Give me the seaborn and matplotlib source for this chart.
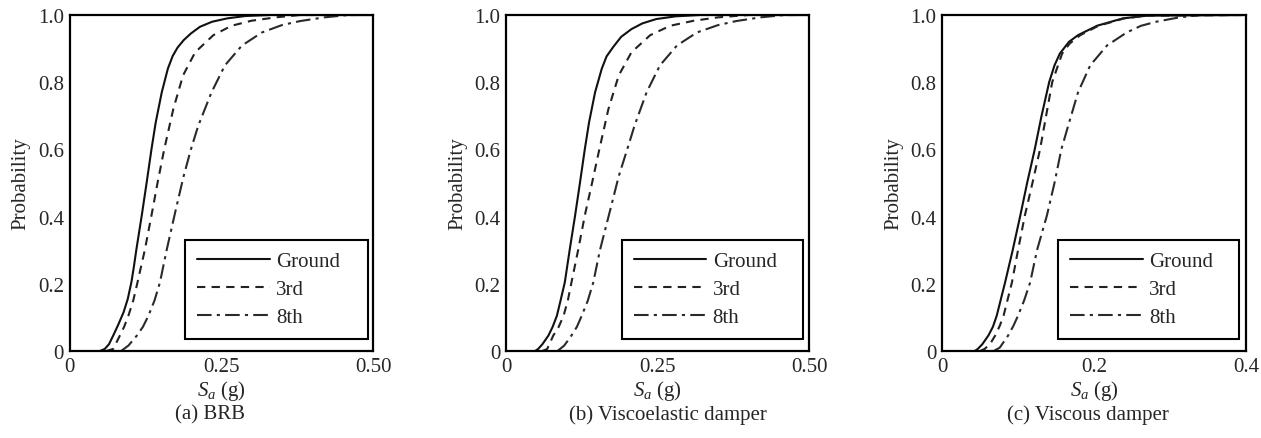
import numpy as np
import pandas as pd
import seaborn as sns
import matplotlib.pyplot as plt

# fragility curves: S_a (g) vs probability
# (a) BRB
brb_ground_x = [0.050, 0.058, 0.065, 0.072, 0.080, 0.089, 0.096, 0.102, 0.106, 0.110, 0.119, 0.127, 0.135, 0.142, 0.152, 0.162, 0.170, 0.178, 0.188, 0.200, 0.215, 0.235, 0.260, 0.290, 0.330, 0.500]
brb_ground_p = [0.0, 0.006, 0.02, 0.046, 0.077, 0.115, 0.155, 0.205, 0.25, 0.30, 0.403, 0.50, 0.60, 0.68, 0.77, 0.84, 0.878, 0.903, 0.925, 0.945, 0.965, 0.98, 0.99, 0.997, 1.0, 1.0]
brb_3rd_x = [0.060, 0.072, 0.083, 0.090, 0.097, 0.105, 0.112, 0.124, 0.135, 0.145, 0.156, 0.171, 0.187, 0.207, 0.237, 0.267, 0.300, 0.340, 0.380, 0.500]
brb_3rd_p = [0.0, 0.006, 0.046, 0.072, 0.105, 0.15, 0.204, 0.30, 0.403, 0.50, 0.60, 0.72, 0.82, 0.889, 0.94, 0.968, 0.983, 0.993, 1.0, 1.0]
brb_8th_x = [0.085, 0.097, 0.111, 0.121, 0.130, 0.140, 0.149, 0.160, 0.175, 0.188, 0.200, 0.212, 0.234, 0.256, 0.284, 0.317, 0.350, 0.380, 0.420, 0.460, 0.500]
brb_8th_p = [0.0, 0.016, 0.046, 0.072, 0.105, 0.15, 0.204, 0.30, 0.42, 0.52, 0.60, 0.67, 0.77, 0.85, 0.909, 0.948, 0.97, 0.982, 0.993, 1.0, 1.0]

# (b) Viscoelastic damper
ve_ground_x = [0.048, 0.053, 0.060, 0.070, 0.077, 0.084, 0.090, 0.097, 0.105, 0.114, 0.122, 0.130, 0.137, 0.147, 0.158, 0.166, 0.177, 0.190, 0.207, 0.225, 0.248, 0.280, 0.320, 0.500]
ve_ground_p = [0.0, 0.006, 0.02, 0.046, 0.072, 0.105, 0.15, 0.204, 0.30, 0.403, 0.50, 0.60, 0.68, 0.77, 0.84, 0.877, 0.905, 0.935, 0.958, 0.975, 0.988, 0.996, 1.0, 1.0]
ve_3rd_x = [0.060, 0.068, 0.078, 0.087, 0.095, 0.102, 0.108, 0.119, 0.130, 0.142, 0.154, 0.169, 0.186, 0.207, 0.238, 0.271, 0.310, 0.350, 0.400, 0.500]
ve_3rd_p = [0.0, 0.006, 0.046, 0.072, 0.105, 0.15, 0.204, 0.30, 0.403, 0.50, 0.60, 0.72, 0.82, 0.889, 0.94, 0.968, 0.983, 0.993, 1.0, 1.0]
ve_8th_x = [0.085, 0.096, 0.108, 0.117, 0.125, 0.135, 0.144, 0.155, 0.172, 0.186, 0.200, 0.212, 0.232, 0.254, 0.282, 0.315, 0.350, 0.380, 0.420, 0.460, 0.500]
ve_8th_p = [0.0, 0.016, 0.046, 0.072, 0.105, 0.15, 0.204, 0.30, 0.42, 0.52, 0.60, 0.67, 0.77, 0.85, 0.909, 0.948, 0.97, 0.982, 0.993, 1.0, 1.0]

# (c) Viscous damper
vd_ground_x = [0.043, 0.047, 0.053, 0.061, 0.067, 0.072, 0.077, 0.083, 0.093, 0.103, 0.112, 0.122, 0.131, 0.141, 0.148, 0.155, 0.167, 0.179, 0.204, 0.238, 0.270, 0.400]
vd_ground_p = [0.0, 0.006, 0.02, 0.046, 0.072, 0.105, 0.15, 0.204, 0.30, 0.403, 0.50, 0.60, 0.70, 0.80, 0.85, 0.885, 0.92, 0.94, 0.968, 0.99, 0.998, 1.0]
vd_3rd_x = [0.050, 0.056, 0.063, 0.070, 0.076, 0.081, 0.086, 0.092, 0.100, 0.109, 0.119, 0.129, 0.137, 0.145, 0.158, 0.168, 0.182, 0.206, 0.240, 0.270, 0.400]
vd_3rd_p = [0.0, 0.006, 0.02, 0.046, 0.075, 0.105, 0.15, 0.204, 0.30, 0.403, 0.50, 0.60, 0.70, 0.80, 0.885, 0.915, 0.94, 0.968, 0.99, 0.998, 1.0]
vd_8th_x = [0.068, 0.076, 0.087, 0.094, 0.100, 0.108, 0.116, 0.125, 0.138, 0.148, 0.157, 0.166, 0.179, 0.195, 0.217, 0.243, 0.262, 0.282, 0.310, 0.340, 0.400]
vd_8th_p = [0.0, 0.01, 0.046, 0.075, 0.105, 0.15, 0.204, 0.30, 0.403, 0.50, 0.60, 0.67, 0.77, 0.85, 0.909, 0.948, 0.968, 0.98, 0.992, 1.0, 1.0]

series_names = ['Ground', '3rd', '8th']
panel_titles = ['(a) BRB', '(b) Viscoelastic damper', '(c) Viscous damper']
x_ticks = [[0, 0.25, 0.50], [0, 0.25, 0.50], [0, 0.2, 0.4]]
x_ticklabels = [['0', '0.25', '0.50'], ['0', '0.25', '0.50'], ['0', '0.2', '0.4']]
y_ticks = [0, 0.2, 0.4, 0.6, 0.8, 1.0]
y_ticklabels = ['0', '0.2', '0.4', '0.6', '0.8', '1.0']

panels = [
    [(brb_ground_x, brb_ground_p), (brb_3rd_x, brb_3rd_p), (brb_8th_x, brb_8th_p)],
    [(ve_ground_x, ve_ground_p), (ve_3rd_x, ve_3rd_p), (ve_8th_x, ve_8th_p)],
    [(vd_ground_x, vd_ground_p), (vd_3rd_x, vd_3rd_p), (vd_8th_x, vd_8th_p)],
]

sns.set_style('white')
plt.rcParams['font.family'] = ['Liberation Serif', 'DejaVu Serif']
plt.rcParams['mathtext.fontset'] = 'custom'
plt.rcParams['mathtext.rm'] = 'Liberation Serif'
plt.rcParams['mathtext.it'] = 'Liberation Serif:italic'
fs = 15

line_styles = ['-', (0, (4, 3)), (0, (7, 2.5, 1.5, 2.5))]
line_colors = ['#111111', '#222222', '#2a2a2a']

fig = plt.figure(figsize=(12.61, 4.39), dpi=100)
ax_lefts = [69.5, 506, 942]
ax_widths = [303.5, 303, 304]
title_x = [210, 667.5, 1088]
# legend boxes (axes fraction): left, width
legend_box = [(0.381, 0.603), (0.383, 0.596), (0.382, 0.595)]

for i, curves in enumerate(panels):
    ax = fig.add_axes([ax_lefts[i] / 1261, 87 / 439, ax_widths[i] / 1261, 336 / 439])
    for (xs, ps), name, ls, col in zip(curves, series_names, line_styles, line_colors):
        df = pd.DataFrame({'Sa': xs, 'P': ps})
        sns.lineplot(data=df, x='Sa', y='P', ax=ax, color=col, linestyle=ls,
                     linewidth=1.5, label=name, sort=False, estimator=None)
    ax.set_xlim(x_ticks[i][0], x_ticks[i][-1])
    ax.set_ylim(0, 1.0)
    ax.set_xticks(x_ticks[i])
    ax.set_xticklabels(x_ticklabels[i], fontsize=fs)
    ax.set_yticks(y_ticks)
    ax.set_yticklabels(y_ticklabels, fontsize=fs)
    ax.tick_params(length=0, pad=4)
    ax.set_xlabel('$S_a$ (g)', fontsize=fs, labelpad=2)
    ax.set_ylabel('Probability', fontsize=fs, labelpad=5)
    for sp in ax.spines.values():
        sp.set_color('black')
        sp.set_linewidth(1.6)
    lx, lw = legend_box[i]
    leg = ax.legend(loc='lower left', bbox_to_anchor=(lx, 0.037, lw, 0.29),
                    mode='expand', borderaxespad=0, fontsize=fs, frameon=True,
                    fancybox=False, framealpha=1, edgecolor='black',
                    handlelength=3.5, handletextpad=0.3, borderpad=0.55,
                    labelspacing=0.4)
    leg.get_frame().set_linewidth(1.5)
    fig.text(title_x[i] / 1261, 1 - 415 / 439, panel_titles[i], ha='center',
             va='center', fontsize=fs)

fig.savefig('out.png', dpi=100)
